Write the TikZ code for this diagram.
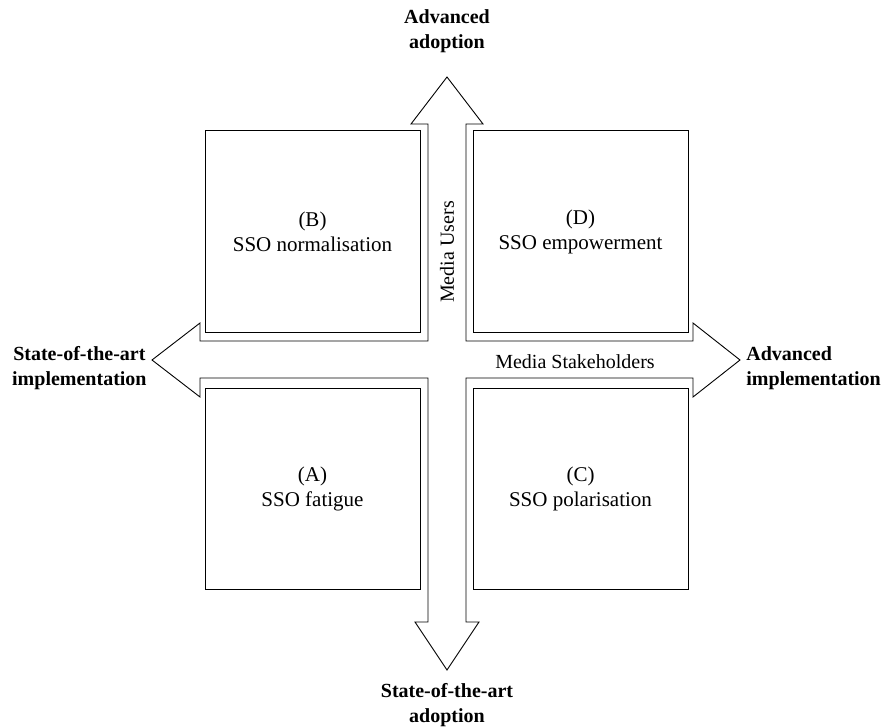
\documentclass[tikz,border=0pt]{standalone}
\usepackage{fontspec}
\setmainfont{Liberation Serif}
\usetikzlibrary{positioning}

\begin{document}
\begin{tikzpicture}[x=0.5pt, y=-0.5pt,
  quad/.style={draw, line width=0.5pt, minimum width=107.5pt, minimum height=100.5pt, inner sep=0pt, align=center, font=\fontsize{10.5}{12.5}\selectfont},
  endlbl/.style={align=center, inner sep=0pt, font=\bfseries\fontsize{10}{12.5}\selectfont},
  axlbl/.style={inner sep=0pt, font=\fontsize{10}{12}\selectfont},
  crossarr/.style={draw, line width=0.45pt, line join=miter}
]
  \useasboundingbox (0,0) rectangle (883,727);

  % the two crossing arrows, drawn as one outline
  \coordinate (c) at (447,360);
  \draw[crossarr] (447,77) -- (483,124) -- (466,124) -- (466,341) -- (693,341) -- (693,323)
    -- (740,360) -- (693,397) -- (693,378) -- (466,378) -- (466,622) -- (479,622)
    -- (447,670) -- (415,622) -- (428,622) -- (428,378) -- (200,378) -- (200,397)
    -- (152,360) -- (200,323) -- (200,341) -- (428,341) -- (428,124) -- (411,124) -- cycle;

  % quadrants
  \node[quad] (qb) at (312.5,231.5) {(B)\\SSO normalisation};
  \node[quad] (qd) at (580.5,231.5) {(D)\\SSO empowerment};
  \node[quad] (qa) at (312.5,488.5) {(A)\\SSO fatigue};
  \node[quad] (qc) at (580.5,488.5) {(C)\\SSO polarisation};

  % axis names
  \node[axlbl] (stake) at (575,362) {Media Stakeholders};
  \node[axlbl, rotate=90] (users) at (447,252) {Media Users};

  % arrow ends
  \node[endlbl] (top) at (447,31) {Advanced\\adoption};
  \node[endlbl] (bot) at (447,705) {State-of-the-art\\adoption};
  \node[endlbl, anchor=east] (lft) at (147,368) {State-of-the-art\\implementation};
  \node[endlbl, anchor=west, align=left] (rgt) at (746,368) {Advanced\\implementation};
\end{tikzpicture}
\end{document}
